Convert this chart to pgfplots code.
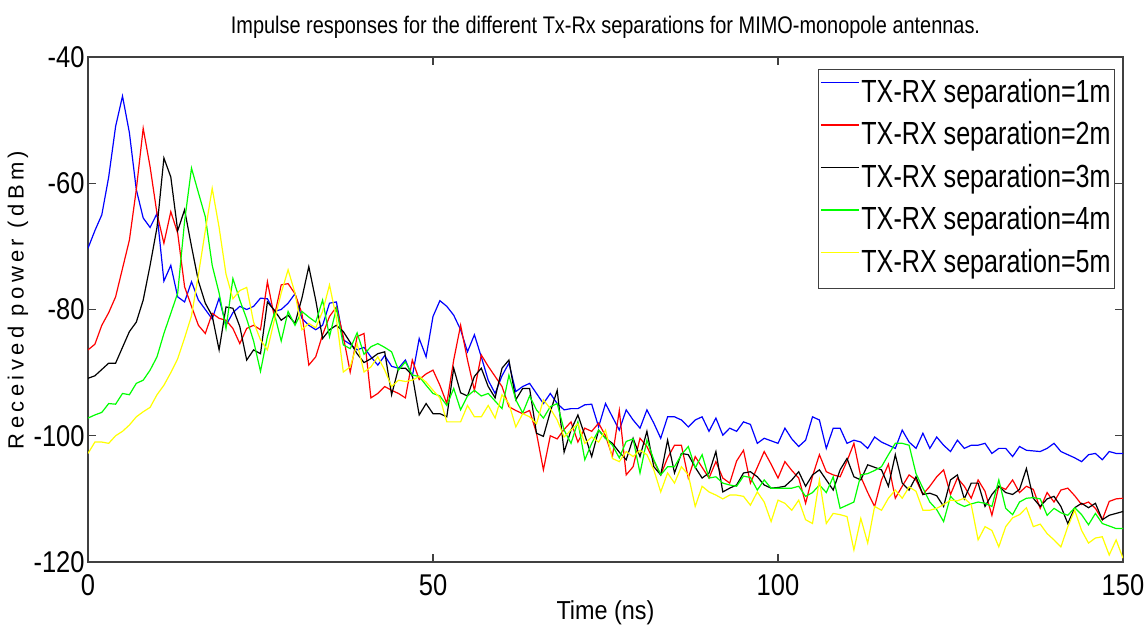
\documentclass[border=0pt]{standalone}
\usepackage{fontspec}
\setmainfont{Liberation Sans}
\newfontfamily\legfont{Liberation Sans}[FakeStretch=0.785]
\newfontfamily\tickfont{Liberation Sans}[FakeStretch=0.85]
\newfontfamily\titfont{Liberation Sans}[FakeStretch=0.83]
\newfontfamily\xlabfont{Liberation Sans}[FakeStretch=0.9]
\newfontfamily\ylabfont{Liberation Sans}[LetterSpace=20]
\usepackage{pgfplots}
\pgfplotsset{compat=1.18}
\begin{document}
\begin{tikzpicture}
\begin{axis}[
 scale only axis, width=517.5pt, height=252.5pt,
 xmin=0, xmax=150, ymin=-120, ymax=-40,
 xtick={0,50,100,150}, xticklabels={0,50,100,150},
 ytick={-120,-100,-80,-60,-40}, yticklabels={-120,-100,-80,-60,-40},
 tick align=inside, major tick length=4pt,
 tick style={black!75, line width=0.6pt},
 axis line style={black!75, line width=0.8pt},
 ticklabel style={font=\tickfont\fontsize{15}{18}\selectfont},
 xticklabel style={inner sep=0pt, anchor=north, yshift=-6pt},
 yticklabel style={inner sep=0pt, anchor=east, xshift=-1.5pt},
 title={Impulse responses for the different Tx-Rx separations for MIMO-monopole antennas.},
 every axis title shift=0pt,
 title style={font=\titfont\fontsize{12}{14}\selectfont, at={(0.5,1)}, anchor=center, yshift=15pt, inner sep=0pt},
 xlabel={Time (ns)},
 xlabel style={font=\xlabfont\fontsize{13}{15}\selectfont, at={(0.5,0)}, anchor=center, yshift=-25.5pt, inner sep=0pt},
 ylabel={Received power (dBm)},
 ylabel style={font=\ylabfont\fontsize{11}{13}\selectfont, at={(-0.0676,0.519)}, anchor=center, inner sep=0pt},
 legend cell align=left,
 legend style={at={(1,1)}, anchor=north east, xshift=-4pt, yshift=-6pt, draw=black!75, fill=white,
   font=\legfont\fontsize{16}{19}\selectfont, inner xsep=1pt, inner ysep=3.5pt, row sep=3.75pt,
   nodes={inner sep=1pt, text height=12pt, text depth=3.5pt}},
 legend image code/.code={\draw[#1] (0pt,5.7pt) -- (19pt,5.7pt);},
 every axis plot/.append style={line width=0.6pt},
]
\addplot[color={rgb,1:red,0;green,0;blue,1}] coordinates {(0,-70.3)(1,-67.5)(2,-65)(3,-59)(4,-51)(5,-46.2)(6,-52)(7,-61)(8,-65.5)(9,-67)(10,-64.8)(11,-75.5)(12,-73)(13,-78)(14,-78.8)(15,-75.6)(16,-78.5)(17,-80)(18,-81.5)(19,-78.2)(20,-82.5)(21,-80.5)(22,-79.5)(23,-80)(24,-79.5)(25,-78.2)(26,-78.3)(27,-80.3)(28,-80)(29,-79)(30,-77.5)(31,-81.4)(32,-82.5)(33,-83.2)(34,-82.5)(35,-79)(36,-78.8)(37,-84.8)(38,-85.5)(39,-86.4)(40,-86)(41,-87.5)(42,-88.8)(43,-87.3)(44,-89)(45,-89.3)(46,-88)(47,-90.6)(48,-84.6)(49,-87.5)(50,-81.1)(51,-78.6)(52,-79.5)(53,-80.9)(54,-83.2)(55,-86.7)(56,-84)(57,-87.5)(58,-91.2)(59,-93.3)(60,-90.5)(61,-88.5)(62,-93)(63,-92.2)(64,-91.7)(65,-93.3)(66,-94.9)(67,-93.3)(68,-94.9)(69,-95.9)(70,-95.7)(71,-95.7)(72,-95.1)(73,-95)(74,-98.6)(75,-94.9)(76,-97)(77,-99.1)(78,-95.9)(79,-97.5)(80,-98.8)(81,-95.9)(82,-98)(83,-100.4)(84,-97)(85,-97)(86,-97.5)(87,-98.6)(88,-97.5)(89,-97)(90,-99.3)(91,-97.2)(92,-99.9)(93,-98.8)(94,-99.3)(95,-97.8)(96,-98.2)(97,-101.2)(98,-100.4)(99,-100.8)(100,-101.2)(101,-98.8)(102,-100.5)(103,-101.7)(104,-100.7)(105,-97)(106,-97.5)(107,-102)(108,-98.8)(109,-98.8)(110,-101.2)(111,-100.7)(112,-101)(113,-102)(114,-100.2)(115,-101)(116,-101.5)(117,-102)(118,-99.1)(119,-101)(120,-102)(121,-99.6)(122,-102)(123,-100.2)(124,-101.5)(125,-102.5)(126,-100.7)(127,-102)(128,-101.5)(129,-101.5)(130,-101.2)(131,-102.8)(132,-102)(133,-102)(134,-103.3)(135,-101.7)(136,-102.3)(137,-102.4)(138,-102.5)(139,-102)(140,-101.2)(141,-102.5)(142,-103)(143,-103.5)(144,-104.1)(145,-103)(146,-102.8)(147,-103.8)(148,-102.5)(149,-102.8)(150,-102.8)};
\addlegendentry{TX-RX separation=1m}
\addplot[color={rgb,1:red,1;green,0;blue,0}] coordinates {(0,-86.4)(1,-85.5)(2,-82.5)(3,-80.5)(4,-78)(5,-73.5)(6,-69)(7,-61)(8,-51.3)(9,-57.4)(10,-64.8)(11,-69.5)(12,-64.5)(13,-67.9)(14,-76.4)(15,-79.5)(16,-82.5)(17,-83.8)(18,-80.6)(19,-81.4)(20,-81.7)(21,-83)(22,-85.4)(23,-83)(24,-82.5)(25,-83.2)(26,-75.6)(27,-81.1)(28,-76.1)(29,-75.9)(30,-77.5)(31,-80.6)(32,-88.8)(33,-87.5)(34,-84)(35,-81.1)(36,-79.6)(37,-84.3)(38,-89.9)(39,-84.3)(40,-83.8)(41,-94)(42,-93.3)(43,-92.2)(44,-92.8)(45,-93.3)(46,-94)(47,-88)(48,-91.1)(49,-90.2)(50,-89.6)(51,-92)(52,-94.9)(53,-88)(54,-82.5)(55,-88)(56,-92.8)(57,-87.2)(58,-89)(59,-90.6)(60,-92.2)(61,-95.4)(62,-96)(63,-96.5)(64,-96)(65,-99.6)(66,-105.4)(67,-100)(68,-100.5)(69,-99)(70,-97.8)(71,-101)(72,-98.8)(73,-99.3)(74,-98)(75,-100)(76,-103.3)(77,-96)(78,-106.2)(79,-104.9)(80,-100.4)(81,-101.7)(82,-104)(83,-106.2)(84,-103.5)(85,-101.5)(86,-101.5)(87,-106.7)(88,-103.3)(89,-105)(90,-106.7)(91,-104.1)(92,-106.7)(93,-107.5)(94,-104)(95,-102.3)(96,-107.5)(97,-105)(98,-102.5)(99,-104.5)(100,-106.7)(101,-104.1)(102,-105.5)(103,-106.7)(104,-110.7)(105,-106.4)(106,-103)(107,-105.7)(108,-106.2)(109,-106.5)(110,-104)(111,-101.2)(112,-106.5)(113,-109)(114,-111.2)(115,-107)(116,-104.5)(117,-109.9)(118,-108)(119,-106.2)(120,-107)(121,-109.3)(122,-108)(123,-106.5)(124,-105.4)(125,-109.3)(126,-106.7)(127,-108)(128,-109.9)(129,-107)(130,-108.8)(131,-112.6)(132,-108)(133,-108.5)(134,-107)(135,-109)(136,-108)(137,-108.5)(138,-111.5)(139,-109)(140,-110.5)(141,-108.6)(142,-108.3)(143,-109.5)(144,-110.9)(145,-110.5)(146,-111.5)(147,-113.3)(148,-110.4)(149,-110)(150,-109.9)};
\addlegendentry{TX-RX separation=2m}
\addplot[color=black] coordinates {(0,-90.9)(1,-90.5)(2,-89.5)(3,-88.5)(4,-88.5)(5,-86)(6,-83.5)(7,-82)(8,-78.5)(9,-73)(10,-67)(11,-56)(12,-59)(13,-67.5)(14,-64.2)(15,-70)(16,-75.5)(17,-79)(18,-81)(19,-86.4)(20,-79.6)(21,-79.8)(22,-82.7)(23,-88)(24,-86.4)(25,-87)(26,-78.8)(27,-80.1)(28,-81.7)(29,-80.9)(30,-82.2)(31,-78.2)(32,-73.2)(33,-78.5)(34,-84.6)(35,-83.2)(36,-82.5)(37,-83.5)(38,-85.2)(39,-87)(40,-88.4)(41,-87.8)(42,-87)(43,-86.7)(44,-93.5)(45,-89.3)(46,-89.3)(47,-90.4)(48,-96.7)(49,-94.9)(50,-96.5)(51,-96.5)(52,-97)(53,-89.3)(54,-93.2)(55,-93.7)(56,-90.6)(57,-89.3)(58,-92.2)(59,-94)(60,-89.3)(61,-88)(62,-94.3)(63,-92.5)(64,-92.5)(65,-99.6)(66,-100.1)(67,-96.2)(68,-92.8)(69,-102.6)(70,-99.1)(71,-96.7)(72,-99.9)(73,-103.3)(74,-99.1)(75,-100.4)(76,-101.2)(77,-102.6)(78,-103.8)(79,-100.4)(80,-103.3)(81,-99.3)(82,-104.9)(83,-106.2)(84,-100.7)(85,-105.9)(86,-102.8)(87,-103)(88,-105)(89,-106.7)(90,-105.9)(91,-102.5)(92,-108.9)(93,-108.3)(94,-107.8)(95,-105.9)(96,-105.7)(97,-106.5)(98,-107.8)(99,-108.3)(100,-108.2)(101,-108)(102,-107)(103,-105.7)(104,-108)(105,-106.2)(106,-105.4)(107,-107)(108,-108.6)(109,-105.4)(110,-103.6)(111,-106.5)(112,-107)(113,-104.6)(114,-105)(115,-105.4)(116,-108)(117,-103)(118,-107.5)(119,-108.6)(120,-106.5)(121,-109.3)(122,-109.1)(123,-109.5)(124,-111.2)(125,-107)(126,-106.2)(127,-110)(128,-107.5)(129,-107.5)(130,-111.2)(131,-109.3)(132,-108)(133,-109)(134,-109.3)(135,-108.5)(136,-105.2)(137,-109.9)(138,-111.2)(139,-110)(140,-109.6)(141,-111.2)(142,-113.9)(143,-111.4)(144,-110.7)(145,-111.4)(146,-110.7)(147,-113.3)(148,-112.6)(149,-112.3)(150,-112)};
\addlegendentry{TX-RX separation=3m}
\addplot[color={rgb,1:red,0;green,1;blue,0}] coordinates {(0,-97.2)(1,-96.7)(2,-96.3)(3,-94.9)(4,-95)(5,-93.3)(6,-93.5)(7,-91.7)(8,-91.2)(9,-89.6)(10,-87.5)(11,-83.8)(12,-80.6)(13,-77.4)(14,-66)(15,-57.6)(16,-61.5)(17,-65.3)(18,-73)(19,-77.4)(20,-83)(21,-75.1)(22,-78.5)(23,-81.5)(24,-85)(25,-89.8)(26,-84.3)(27,-80.6)(28,-85)(29,-80.3)(30,-82.5)(31,-80.3)(32,-81.2)(33,-82)(34,-78.5)(35,-84.3)(36,-79.8)(37,-85.6)(38,-86.2)(39,-83.7)(40,-87.1)(41,-85.9)(42,-85.4)(43,-86)(44,-86.7)(45,-89.6)(46,-88.3)(47,-90.4)(48,-90.6)(49,-92)(50,-93.3)(51,-93.7)(52,-95.2)(53,-92.5)(54,-95.9)(55,-93.7)(56,-92.8)(57,-93.7)(58,-93.3)(59,-94.5)(60,-95.7)(61,-90.4)(62,-94.3)(63,-96.4)(64,-93.7)(65,-95.9)(66,-97.2)(67,-95.4)(68,-94.9)(69,-99.1)(70,-101.2)(71,-97.8)(72,-103.8)(73,-101.2)(74,-99.1)(75,-100.4)(76,-101.5)(77,-103.5)(78,-100.9)(79,-100.5)(80,-105.9)(81,-100.7)(82,-103.8)(83,-106.2)(84,-104.9)(85,-104.9)(86,-103)(87,-101.7)(88,-105.1)(89,-103)(90,-106.7)(91,-106.5)(92,-107.5)(93,-107.8)(94,-108)(95,-106.4)(96,-106.6)(97,-108.6)(98,-107)(99,-108.3)(100,-108.3)(101,-108.3)(102,-108.3)(103,-108)(104,-109.6)(105,-109)(106,-107.8)(107,-109)(108,-106.5)(109,-111.5)(110,-111)(111,-110.5)(112,-106.2)(113,-106)(114,-105.5)(115,-104.9)(116,-103)(117,-101.2)(118,-101.2)(119,-101.5)(120,-106)(121,-108.3)(122,-110.5)(123,-111.7)(124,-113.6)(125,-109.6)(126,-110.7)(127,-111.2)(128,-110.8)(129,-110.5)(130,-110.7)(131,-111.2)(132,-107)(133,-111.5)(134,-112.5)(135,-110.5)(136,-109.9)(137,-109.8)(138,-110)(139,-112.6)(140,-111.5)(141,-112.2)(142,-112.6)(143,-111.4)(144,-112.5)(145,-114.1)(146,-112.3)(147,-113.9)(148,-114.3)(149,-114.7)(150,-114.7)};
\addlegendentry{TX-RX separation=4m}
\addplot[color={rgb,1:red,1;green,1;blue,0}] coordinates {(0,-102.8)(1,-101)(2,-101)(3,-101.2)(4,-100)(5,-99.3)(6,-98.3)(7,-97)(8,-96.2)(9,-95.5)(10,-93.5)(11,-92)(12,-90)(13,-87.8)(14,-84.5)(15,-81)(16,-74.5)(17,-67.5)(18,-60.8)(19,-67)(20,-74.4)(21,-78.3)(22,-77)(23,-76.5)(24,-82)(25,-84.8)(26,-86.4)(27,-81.7)(28,-77.4)(29,-73.7)(30,-77.4)(31,-83.2)(32,-82.2)(33,-82.9)(34,-80.3)(35,-76.1)(36,-81.4)(37,-89.9)(38,-89.1)(39,-85.4)(40,-89.9)(41,-89.1)(42,-87.5)(43,-89.6)(44,-92.2)(45,-91.2)(46,-91.4)(47,-91.2)(48,-90.6)(49,-91.5)(50,-92.8)(51,-94)(52,-97.8)(53,-97.8)(54,-97.8)(55,-95.2)(56,-97)(57,-97)(58,-95.2)(59,-97.2)(60,-93.5)(61,-94.9)(62,-98.6)(63,-96.5)(64,-97)(65,-98.1)(66,-94.3)(67,-95.7)(68,-97.5)(69,-100.2)(70,-99.1)(71,-98.1)(72,-101.2)(73,-100.2)(74,-101)(75,-99.1)(76,-103.6)(77,-104.1)(78,-102.5)(79,-103.3)(80,-102.3)(81,-103)(82,-105.4)(83,-108.9)(84,-105.9)(85,-107.5)(86,-104.9)(87,-106.2)(88,-111.2)(89,-108)(90,-108.9)(91,-109.4)(92,-110)(93,-109.4)(94,-109.4)(95,-109.6)(96,-111)(97,-108.9)(98,-110.5)(99,-113.6)(100,-110.2)(101,-110.7)(102,-111.8)(103,-110.2)(104,-113.3)(105,-113.9)(106,-107)(107,-113.9)(108,-112.3)(109,-112.5)(110,-112.8)(111,-118.1)(112,-113.1)(113,-117)(114,-111.2)(115,-111.8)(116,-109.9)(117,-108.6)(118,-109.9)(119,-108.1)(120,-108.8)(121,-111.8)(122,-111.8)(123,-111.5)(124,-110.9)(125,-110.2)(126,-110.3)(127,-109.9)(128,-110.9)(129,-116.5)(130,-114.4)(131,-115)(132,-117.6)(133,-114.4)(134,-113)(135,-112.5)(136,-111.4)(137,-114.4)(138,-114)(139,-115.5)(140,-116.5)(141,-117.6)(142,-114.4)(143,-111.8)(144,-115)(145,-117)(146,-116.2)(147,-116)(148,-118.9)(149,-116.5)(150,-119.4)};
\addlegendentry{TX-RX separation=5m}
\end{axis}
\pgfresetboundingbox
\path[use as bounding box] (-44pt,-35.5pt) rectangle (528.5pt,281pt);
\end{tikzpicture}
\end{document}
